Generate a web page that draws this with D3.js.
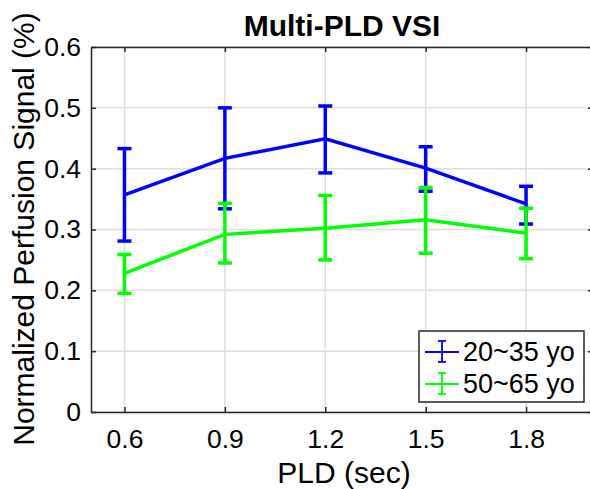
<!DOCTYPE html>
<html lang="en">
<head>
    <meta charset="UTF-8">
    <title>Multi-PLD VSI</title>
    <script src="https://d3js.org/d3.v7.min.js"></script>
    <style>
        body { margin: 0; background: #fff; }
        text { font-family: "Liberation Sans", Arial, sans-serif; fill: #000; }
    </style>
</head>
<body>
<div id="chart"></div>

<script>
    // PLD values (sec) and per-group mean / error bounds
    const pld = [0.6, 0.9, 1.2, 1.5, 1.8];
    const youngMean = [0.357, 0.417, 0.449, 0.401, 0.342];
    const youngLow  = [0.281, 0.334, 0.393, 0.363, 0.309];
    const youngHigh = [0.433, 0.500, 0.503, 0.436, 0.371];
    const oldMean = [0.228, 0.292, 0.302, 0.316, 0.294];
    const oldLow  = [0.195, 0.245, 0.250, 0.261, 0.252];
    const oldHigh = [0.259, 0.343, 0.356, 0.369, 0.335];
    const seriesNames = ["20~35 yo", "50~65 yo"];
    const seriesColors = ["#0000ff", "#00ff00"];
    const xTicks = [0.6, 0.9, 1.2, 1.5, 1.8];
    const yTicks = [0, 0.1, 0.2, 0.3, 0.4, 0.5, 0.6];

    const W = 590, H = 489;
    const margin = {top: 47, right: -3, bottom: 77, left: 91};
    const width = W - margin.left - margin.right,
        height = H - margin.top - margin.bottom;

    const svg = d3.select("#chart")
        .append("svg")
        .attr("width", W)
        .attr("height", H);

    const g = svg.append("g")
        .attr("transform", `translate(${margin.left},${margin.top})`);

    const x = d3.scaleLinear().domain([0.5, 2.0]).range([0, width]);
    const y = d3.scaleLinear().domain([0, 0.6]).range([height, 0]);

    // grid
    g.append("g").selectAll("line").data(xTicks).join("line")
        .attr("x1", d => x(d)).attr("x2", d => x(d))
        .attr("y1", 0).attr("y2", height)
        .attr("stroke", "#dedede").attr("stroke-width", 1.5);
    g.append("g").selectAll("line").data(yTicks).join("line")
        .attr("x1", 0).attr("x2", width)
        .attr("y1", d => y(d)).attr("y2", d => y(d))
        .attr("stroke", "#dedede").attr("stroke-width", 1.5);

    // data
    const series = [
        {mean: youngMean, low: youngLow, high: youngHigh},
        {mean: oldMean, low: oldLow, high: oldHigh}
    ];
    const line = d3.line().x((d, i) => x(pld[i])).y(d => y(d));
    const capW = 7;

    series.forEach((s, k) => {
        const col = seriesColors[k];
        const sg = g.append("g")
            .attr("stroke", col)
            .attr("stroke-width", 3.5)
            .attr("fill", "none");
        sg.append("path").attr("d", line(s.mean));
        pld.forEach((p, i) => {
            const cx = x(p);
            sg.append("line")
                .attr("x1", cx).attr("x2", cx)
                .attr("y1", y(s.low[i])).attr("y2", y(s.high[i]));
            sg.append("line")
                .attr("x1", cx - capW).attr("x2", cx + capW)
                .attr("y1", y(s.low[i])).attr("y2", y(s.low[i]));
            sg.append("line")
                .attr("x1", cx - capW).attr("x2", cx + capW)
                .attr("y1", y(s.high[i])).attr("y2", y(s.high[i]));
        });
    });

    // axes (ticks pointing inward, MATLAB style)
    const axisCol = "#262626";
    const xAxis = g.append("g")
        .attr("transform", `translate(0,${height})`)
        .call(d3.axisBottom(x).tickValues(xTicks).tickSizeInner(-5).tickSizeOuter(0)
            .tickPadding(17).tickFormat(d3.format(".1f")));
    const xTop = g.append("g")
        .call(d3.axisTop(x).tickValues(xTicks).tickSizeInner(-5).tickSizeOuter(0).tickFormat(""));
    const yAxis = g.append("g")
        .call(d3.axisLeft(y).tickValues(yTicks).tickSizeInner(-5).tickSizeOuter(0)
            .tickPadding(10).tickFormat(d => d === 0 ? "0" : d3.format(".1f")(d)));
    const yRight = g.append("g")
        .attr("transform", `translate(${width},0)`)
        .call(d3.axisRight(y).tickValues(yTicks).tickSizeInner(-5).tickSizeOuter(0).tickFormat(""));

    [xAxis, xTop, yAxis, yRight].forEach(a => {
        a.select(".domain").attr("stroke", axisCol).attr("stroke-width", 1.5);
        a.selectAll(".tick line").attr("stroke", axisCol).attr("stroke-width", 1.5);
        a.selectAll(".tick text")
            .attr("font-family", "Liberation Sans, Arial, sans-serif")
            .attr("font-size", 26.5).attr("fill", "#000");
    });

    // labels
    svg.append("text")
        .attr("x", 342).attr("y", 36)
        .attr("text-anchor", "middle")
        .attr("font-size", 30).attr("font-weight", "bold")
        .text("Multi-PLD VSI");
    svg.append("text")
        .attr("x", 344).attr("y", 483)
        .attr("text-anchor", "middle")
        .attr("font-size", 30)
        .text("PLD (sec)");
    svg.append("text")
        .attr("transform", "translate(34,229) rotate(-90)")
        .attr("text-anchor", "middle")
        .attr("font-size", 30)
        .text("Normalized Perfusion Signal (%)");

    // legend
    const lg = svg.append("g").attr("transform", "translate(419,331)");
    lg.append("rect")
        .attr("width", 165).attr("height", 71)
        .attr("fill", "#fff").attr("stroke", axisCol).attr("stroke-width", 1.5);
    seriesNames.forEach((name, k) => {
        const ly = 21 + k * 32;
        const r = lg.append("g").attr("stroke", seriesColors[k]).attr("stroke-width", 1.8);
        r.append("line").attr("x1", 6).attr("x2", 40).attr("y1", ly).attr("y2", ly);
        r.append("line").attr("x1", 23).attr("x2", 23).attr("y1", ly - 11).attr("y2", ly + 10);
        r.append("line").attr("x1", 19).attr("x2", 27).attr("y1", ly - 11).attr("y2", ly - 11);
        r.append("line").attr("x1", 19).attr("x2", 27).attr("y1", ly + 10).attr("y2", ly + 10);
        lg.append("text")
            .attr("x", 44).attr("y", ly + 9)
            .attr("font-size", 27)
            .text(name);
    });
</script>
</body>
</html>
